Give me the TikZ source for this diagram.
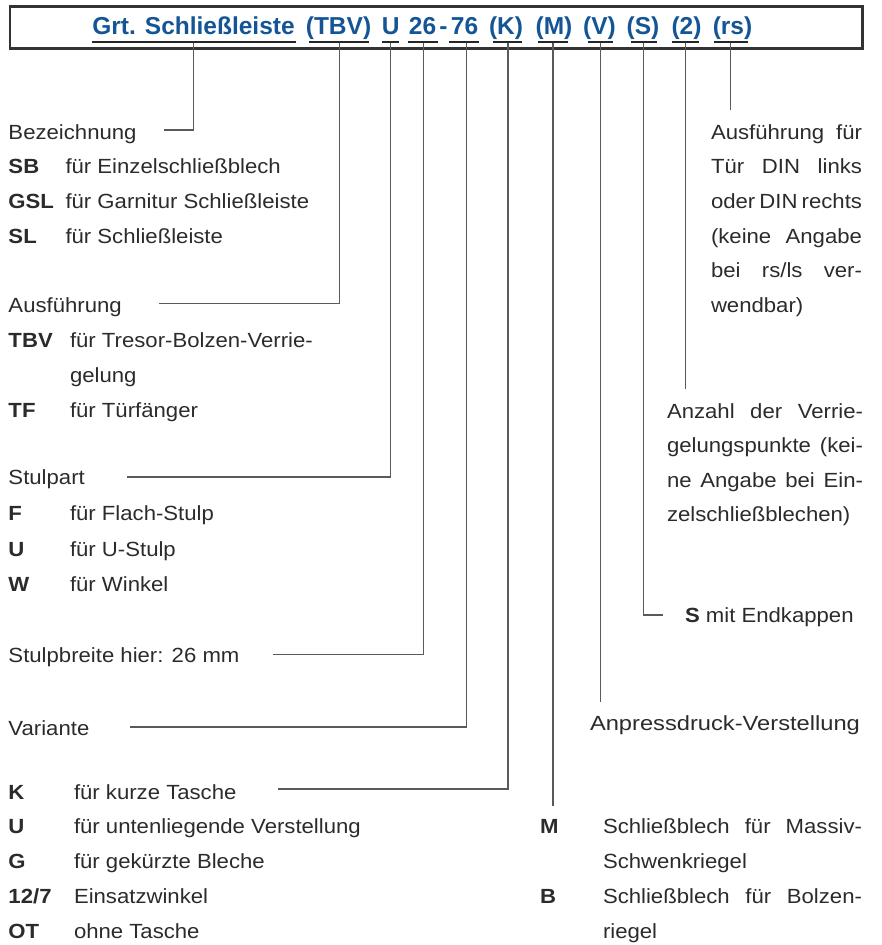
\documentclass[tikz,border=0pt]{standalone}
\usepackage{fontspec}
\setmainfont{Liberation Sans}[FakeStretch=1.08]
\newfontfamily\titlefont{Liberation Sans}
\definecolor{tblue}{RGB}{20,85,150}
\definecolor{txt}{HTML}{2B2B2B}
\definecolor{ln}{HTML}{5A5A5A}
\begin{document}
\begin{tikzpicture}[x=1pt,y=-1pt,
  lbl/.style={anchor=base west, inner sep=0pt, outer sep=0pt, text=txt, font=\fontsize{20.5}{24}\selectfont},
  lbb/.style={lbl, font=\fontsize{20.5}{24}\selectfont\bfseries},
  ttl/.style={anchor=base, inner sep=0pt, outer sep=0pt, text=tblue, font=\titlefont\bfseries\fontsize{24.5}{28}\selectfont},
  uline/.style={line width=2.2pt, draw=black!85},
  conn/.style={line width=1.2pt, draw=ln},
  frame/.style={line width=2.6pt, draw=black!80}
]
\useasboundingbox (0,0) rectangle (881,945);
% title frame
\draw[frame] (10,6.5) rectangle (862.5,48.5);
% title parts
\node[ttl] (t1) at (193.5,34.3) {Grt. Schließleiste};
\node[ttl] (t2) at (338.5,34.3) {(TBV)};
\node[ttl] (t3) at (390.7,34.3) {U};
\node[ttl] (t4) at (422.5,34.3) {26};
\node[ttl] (t4h) at (443.5,34.3) {-};
\node[ttl] (t5) at (464.5,34.3) {76};
\node[ttl] (t6) at (506,34.3) {(K)};
\node[ttl] (t7) at (554,34.3) {(M)};
\node[ttl] (t8) at (599.5,34.3) {(V)};
\node[ttl] (t9) at (643,34.3) {(S)};
\node[ttl] (t10) at (686.5,34.3) {(2)};
\node[ttl] (t11) at (732.5,34.3) {(rs)};
% underlines
\draw[uline] (92,42.3) -- (296,42.3);
\draw[uline] (309,42.3) -- (369,42.3);
\draw[uline] (382,42.3) -- (399,42.3);
\draw[uline] (408,42.3) -- (438,42.3);
\draw[uline] (449,42.3) -- (479,42.3);
\draw[uline] (493,42.3) -- (522,42.3);
\draw[uline] (538,42.3) -- (568,42.3);
\draw[uline] (588,42.3) -- (613,42.3);
\draw[uline] (631,42.3) -- (657,42.3);
\draw[uline] (672,42.3) -- (699,42.3);
\draw[uline] (714,42.3) -- (748,42.3);
% connector start points
\coordinate (u1) at (193.5,43.4);
\coordinate (u2) at (339.3,43.4);
\coordinate (u3) at (390.7,43.4);
\coordinate (u4) at (423.5,43.4);
\coordinate (u5) at (466.5,43.4);
\coordinate (u6) at (508,43.4);
\coordinate (u7) at (553,43.4);
\coordinate (u8) at (600.7,43.4);
\coordinate (u9) at (643.5,43.4);
\coordinate (u10) at (685.7,43.4);
\coordinate (u11) at (730.7,43.4);
% connector ends
\coordinate (e1) at (164,130);
\coordinate (e2) at (159,303.3);
\coordinate (e3) at (127,477);
\coordinate (e4) at (273,654.6);
\coordinate (e5) at (130,727);
\coordinate (e6) at (278,789);
\coordinate (e7) at (553,806);
\coordinate (e8) at (600.7,701.7);
\coordinate (e9) at (663,615);
\coordinate (e10) at (685.7,389);
\coordinate (e11) at (730.7,110);
\draw[conn] (u1) |- (e1);
\draw[conn] (u2) |- (e2);
\draw[conn] (u3) |- (e3);
\draw[conn] (u4) |- (e4);
\draw[conn] (u5) |- (e5);
\draw[conn] (u6) |- (e6);
\draw[conn] (u7) -- (e7);
\draw[conn] (u8) -- (e8);
\draw[conn] (u9) |- (e9);
\draw[conn] (u10) -- (e10);
\draw[conn] (u11) -- (e11);
% left column
\node[lbl] (bez) at (8.5,139) {Bezeichnung};
\node[lbb] (sb) at (8.5,173.5) {SB};
\node[lbl] (sbt) at (65.5,173.5) {für Einzelschließblech};
\node[lbb] (gsl) at (8.5,208) {GSL};
\node[lbl] (gslt) at (65.5,208) {für Garnitur Schließleiste};
\node[lbb] (sl) at (8.5,243) {SL};
\node[lbl] (slt) at (65.5,243) {für Schließleiste};
\node[lbl] (ausf) at (8.5,312) {Ausführung};
\node[lbb] (tbv) at (8.5,347) {TBV};
\node[lbl] (tbvt) at (70,347) {für Tresor-Bolzen-Verrie-};
\node[lbl] (tbvt2) at (70,382) {gelung};
\node[lbb] (tf) at (8.5,417) {TF};
\node[lbl] (tft) at (70,417) {für Türfänger};
\node[lbl] (stulp) at (8.5,484) {Stulpart};
\node[lbb] (f) at (8.5,520) {F};
\node[lbl] (ft) at (70,520) {für Flach-Stulp};
\node[lbb] (u) at (8.5,556) {U};
\node[lbl] (ut) at (70,556) {für U-Stulp};
\node[lbb] (w) at (8.5,591) {W};
\node[lbl] (wt) at (70,591) {für Winkel};
\node[lbl] (sbr) at (8.5,662) {Stulpbreite hier: 26 mm};
\node[lbl] (var) at (8.5,735) {Variante};
\node[lbb] (k) at (8.5,799) {K};
\node[lbl] (kt) at (74,799) {für kurze Tasche};
\node[lbb] (u2l) at (8.5,833.5) {U};
\node[lbl] (u2t) at (74,833.5) {für untenliegende Verstellung};
\node[lbb] (g) at (8.5,868) {G};
\node[lbl] (gt) at (74,868) {für gekürzte Bleche};
\node[lbb] (z) at (8.5,903.5) {12/7};
\node[lbl] (zt) at (74,903.5) {Einsatzwinkel};
\node[lbb] (ot) at (8.5,938.5) {OT};
\node[lbl] (ott) at (74,938.5) {ohne Tasche};
% right column
\node[lbl] (r1) at (711,139) {\hbox to 151pt{Ausführung für}};
\node[lbl] (r2) at (711,173.7) {\hbox to 151pt{Tür DIN links}};
\node[lbl] (r3) at (711,208.4) {\hbox to 151pt{oder DIN rechts}};
\node[lbl] (r4) at (711,243.1) {\hbox to 151pt{(keine Angabe}};
\node[lbl] (r5) at (711,277.8) {\hbox to 151pt{bei rs/ls ver-}};
\node[lbl] (r6) at (711,312.5) {wendbar)};
\node[lbl] (a1) at (667,418) {\hbox to 196pt{Anzahl der Verrie-}};
\node[lbl] (a2) at (667,452.5) {\hbox to 196pt{gelungspunkte (kei-}};
\node[lbl] (a3) at (667,487) {\hbox to 196pt{ne Angabe bei Ein-}};
\node[lbl] (a4) at (667,521.5) {zelschließblechen)};
\node[lbb] (s) at (685,622) {S};
\node[lbl] (st) at (s.base east) {\ mit Endkappen};
\node[lbl, xscale=1.07] (anp) at (590,730) {Anpressdruck-Verstellung};
\node[lbb] (m) at (540,833.5) {M};
\node[lbl] (m1) at (603,833.5) {\hbox to 259pt{Schließblech für Massiv-}};
\node[lbl] (m2) at (603,868) {Schwenkriegel};
\node[lbb] (b) at (540,903.5) {B};
\node[lbl] (b1) at (603,903.5) {\hbox to 259pt{Schließblech für Bolzen-}};
\node[lbl] (b2) at (603,938.5) {riegel};
\end{tikzpicture}
\end{document}
